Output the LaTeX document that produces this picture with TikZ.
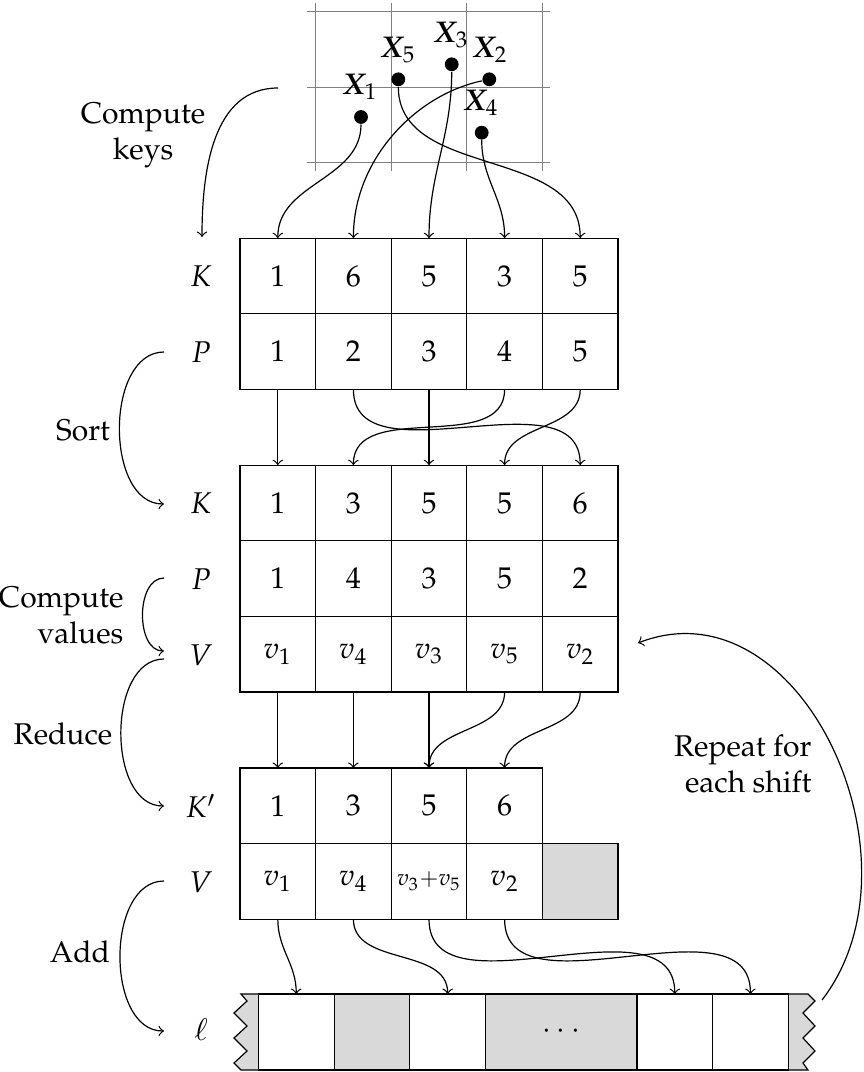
\documentclass[tikz,border=0pt]{standalone}
\usepackage[T1]{fontenc}
\usepackage{mathpazo}
\usepackage{bm}
\begin{document}
\begin{tikzpicture}[x=0.33333pt, y=0.33333pt,
  cell/.style={draw, minimum width=25.2pt, minimum height=25.2pt, inner sep=0pt, outer sep=0pt},
  lcell/.style={draw, minimum width=25.23pt, minimum height=25.3pt, inner sep=0pt, outer sep=0pt},
  shade/.style={fill=black!15},
  dot/.style={circle, fill=black, inner sep=0pt, minimum size=4.6pt},
  gridline/.style={gray, line width=0.4pt},
  conn/.style={->},
  lbl/.style={inner sep=1pt}
]
\useasboundingbox (0,0) rectangle (863,-1072);

% grid
\foreach \x in {315.6,391.2,466.8,542.4} \draw[gridline] (\x,-3) -- (\x,-171);
\foreach \y in {11.7,87.3,162.9} \draw[gridline] (307,-\y) -- (550,-\y);

% points
\node[dot] (x1) at (361,-117) {};
\node[dot] (x2) at (489.3,-79.3) {};
\node[dot] (x3) at (451.7,-64.3) {};
\node[dot] (x4) at (481.7,-132.7) {};
\node[dot] (x5) at (398.3,-79.3) {};
\node[lbl] (lx1) at (360,-87) {$\bm{X}_1$};
\node[lbl] (lx2) at (490,-50) {$\bm{X}_2$};
\node[lbl] (lx3) at (451,-35) {$\bm{X}_3$};
\node[lbl] (lx4) at (481,-103) {$\bm{X}_4$};
\node[lbl] (lx5) at (398,-50) {$\bm{X}_5$};

% array 1
\foreach \v [count=\i] in {1,6,5,3,5}
  \node[cell] (ak\i) at ({277.8+75.6*(\i-1)},-276) {$\v$};
\foreach \v [count=\i] in {1,2,3,4,5}
  \node[cell] (ap\i) at ({277.8+75.6*(\i-1)},-351.6) {$\v$};

% array 2
\foreach \v [count=\i] in {1,3,5,5,6}
  \node[cell] (bk\i) at ({277.8+75.6*(\i-1)},-503) {$\v$};
\foreach \v [count=\i] in {1,4,3,5,2}
  \node[cell] (bp\i) at ({277.8+75.6*(\i-1)},-578.6) {$\v$};
\foreach \v [count=\i] in {1,4,3,5,2}
  \node[cell] (bv\i) at ({277.8+75.6*(\i-1)},-654.2) {$v_{\v}$};

% array 3
\foreach \v [count=\i] in {1,3,5,6}
  \node[cell] (ck\i) at ({277.8+75.6*(\i-1)},-805.8) {$\v$};
\node[cell] (cv1) at (277.8,-881.4) {$v_1$};
\node[cell] (cv2) at (353.4,-881.4) {$v_4$};
\node[cell] (cv3) at (429.0,-881.4) {$\scriptstyle v_3+v_5$};
\node[cell] (cv4) at (504.6,-881.4) {$v_2$};
\node[cell, shade] (cv5) at (580.2,-881.4) {};

% array l
\filldraw[shade] (258.4,-994) -- (241,-994) -- (247,-1001) -- (234,-1013) -- (247,-1026) -- (234,-1038) -- (247,-1051) -- (234,-1063) -- (241,-1070) -- (258.4,-1070);
\filldraw[shade] (788.3,-994) -- (808,-994) -- (815,-1001) -- (803,-1013) -- (815,-1026) -- (803,-1038) -- (815,-1051) -- (803,-1063) -- (808,-1070) -- (788.3,-1070);
\node[lcell] (l1) at (296.25,-1032) {};
\node[lcell, shade] (l2) at (371.95,-1032) {};
\node[lcell] (l3) at (447.65,-1032) {};
\node[lcell, shade, minimum width=50.47pt] (l4) at (561.2,-1032) {$\cdots$};
\node[lcell] (l5) at (674.75,-1032) {};
\node[lcell] (l6) at (750.45,-1032) {};

% row labels
\node[lbl] (rk1) at (201,-276) {$K$};
\node[lbl] (rp1) at (201,-352) {$P$};
\node[lbl] (rk2) at (201,-503) {$K$};
\node[lbl] (rp2) at (201,-579) {$P$};
\node[lbl] (rv2) at (201,-655) {$V$};
\node[lbl] (rk3) at (201,-806) {$K'$};
\node[lbl] (rv3) at (201,-882) {$V$};
\node[lbl] (rl) at (201,-1030) {$\ell$};

% key connectors
\draw[conn] (x1) to[out=-90,in=90] (ak1.north);
\draw[conn] (x2) .. controls (415,-95) and (353.4,-160) .. (ak2.north);
\draw[conn] (x3) to[out=-90,in=90] (ak3.north);
\draw[conn] (x4) to[out=-90,in=90] (ak4.north);
\draw[conn] (x5) to[out=-90,in=90] (ak5.north);

% sort connectors
\foreach \a/\b in {1/1,2/5,3/3,4/2,5/4}
  \draw[conn] (ap\a.south) to[out=-90,in=90] (bk\b.north);
% reduce connectors
\foreach \a/\b in {1/1,2/2,3/3,4/3,5/4}
  \draw[conn] (bv\a.south) to[out=-90,in=90] (ck\b.north);
% add connectors
\foreach \a/\b in {1/1,2/3,3/5,4/6}
  \draw[conn] (cv\a.south) to[out=-90,in=90] (l\b.north);

% step arcs
\coordinate (cka) at (278,-88);   \coordinate (ckb) at (202,-237);
\coordinate (sa) at (164,-352);   \coordinate (sb) at (164,-504);
\coordinate (cva) at (164,-578);  \coordinate (cvb) at (164,-651);
\coordinate (ra) at (164,-659);   \coordinate (rb) at (164,-806);
\coordinate (aa) at (164,-881);   \coordinate (ab) at (164,-1031);
\coordinate (rpa) at (822,-1000); \coordinate (rpb) at (638,-643);
\draw[conn] (cka) to[out=180,in=90] (ckb);
\draw[conn] (sa) to[out=180,in=180] (sb);
\draw[conn] (cva) to[out=180,in=180] (cvb);
\draw[conn] (ra) to[out=180,in=180] (rb);
\draw[conn] (aa) to[out=180,in=180] (ab);
\draw[conn] (rpa) .. controls (930,-860) and (800,-580) .. (rpb);

% step texts
\node[align=center] (tck) at (143,-135) {Compute\\keys};
\node (tsort) at (83,-430) {Sort};
\node[align=right, anchor=east] (tcv) at (134,-615) {Compute\\values};
\node (tred) at (63,-734) {Reduce};
\node (tadd) at (80,-952) {Add};
\node[align=right, anchor=east] (trep) at (822,-764) {Repeat for\\each shift};
\end{tikzpicture}
\end{document}
